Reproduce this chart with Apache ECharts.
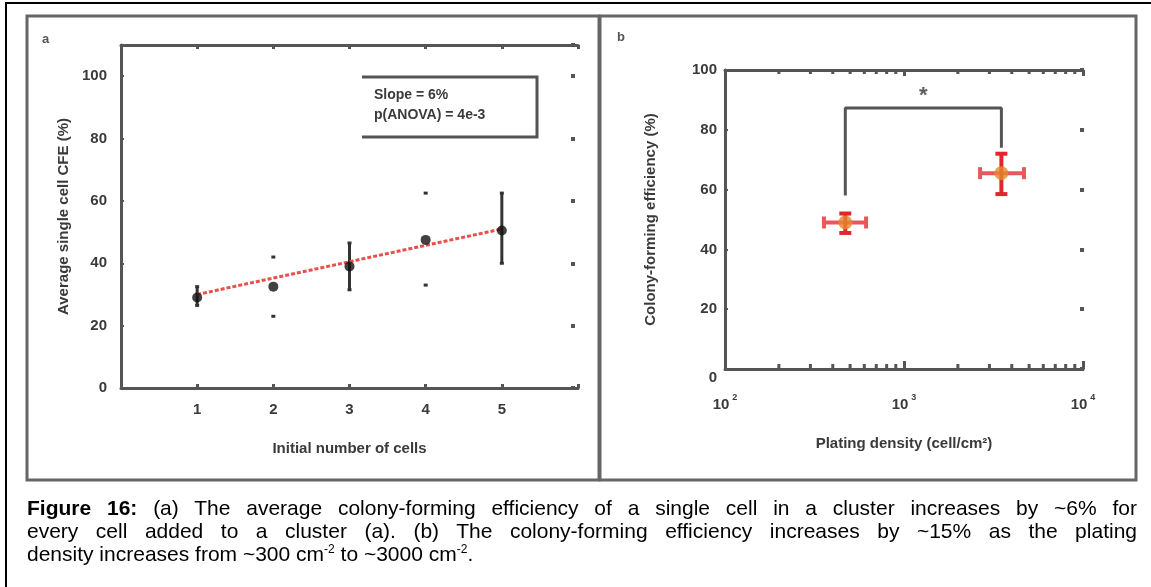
<!DOCTYPE html>
<html>
<head>
<meta charset="utf-8">
<script src="https://cdn.jsdelivr.net/npm/echarts@6/dist/echarts.min.js"></script>
<style>
  html, body { margin: 0; padding: 0; background: #fff; }
  #chart { position: absolute; left: 0; top: 0; width: 1151px; height: 587px; }
  #caption {
    position: absolute; left: 27px; top: 496px; width: 1110px;
    font: 21px 'Liberation Sans', Arial, sans-serif; line-height: 23px; color: #000;
  }
  #caption div { text-align: justify; text-align-last: justify; white-space: nowrap; }
  #caption div.last { text-align: left; text-align-last: left; }
  #caption sup { font-size: 12px; line-height: 0; vertical-align: 8px; }
</style>
</head>
<body>
<div id="chart"></div>
<div id="caption">
  <div><b>Figure 16:</b> (a) The average colony-forming efficiency of a single cell in a cluster increases by ~6% for</div>
  <div>every cell added to a cluster (a). (b) The colony-forming efficiency increases by ~15% as the plating</div>
  <div class="last">density increases from ~300 cm<sup>-2</sup> to ~3000 cm<sup>-2</sup>.</div>
</div>
<script>
// panel a: CFE vs initial number of cells
const cellCounts = [1, 2, 3, 4, 5];
const cfeMean = [29, 32.5, 39, 47.5, 50.5];
const cfeLow = [26.5, 23, 31.5, 33, 40];
const cfeHigh = [32.5, 42, 46.5, 62.5, 62.5];
const cfeBarShown = [1, 0, 1, 0, 1]; // stems of 2 and 4 are lost in the scan
const fitLine = [[1, 30], [5, 51]];
const statLines = ['Slope = 6%', 'p(ANOVA) = 4e-3'];

// panel b: colony-forming efficiency vs plating density
const density = [470, 3500];
const densityLow = [357, 2660];
const densityHigh = [614, 4680];
const colonyEff = [49, 65.5];
const colonyLow = [45.5, 58.5];
const colonyHigh = [52, 72];
const bracket = [[470, 58], [470, 87.3], [3500, 87.3], [3500, 74]];
const starPos = [1280, 92.5];
const minorTicks = [200, 300, 400, 500, 600, 700, 800, 900, 2000, 3000, 4000, 5000, 6000, 7000, 8000, 9000];

const AX = '#555';
const TXT = '#3a3a3a';
const FONT = "'Liberation Sans', Arial, sans-serif";

const chart = echarts.init(document.getElementById('chart'));

const labelStyle = { color: TXT, fontSize: 15, fontWeight: 'bold', fontFamily: FONT };
const nameStyle = { color: TXT, fontSize: 15, fontWeight: 'bold', fontFamily: FONT };

const vErrBars = cellCounts.map((c, i) => [c, cfeLow[i], cfeHigh[i], cfeBarShown[i]]);
const xyErrBars = density.map((d, i) => [d, colonyEff[i], densityLow[i], densityHigh[i], colonyLow[i], colonyHigh[i]]);

const supLabel = v => '{b|10}{s|' + Math.round(Math.log10(v)) + '}';

const option = {
  backgroundColor: '#fff',
  animation: false,
  grid: [
    { left: 121, top: 45, width: 457, height: 343 },
    { left: 725, top: 70, width: 358, height: 299 }
  ],
  xAxis: [
    {
      gridIndex: 0, type: 'value', min: 0, max: 6, interval: 1,
      name: 'Initial number of cells', nameLocation: 'middle', nameGap: 53, nameTextStyle: nameStyle,
      axisLine: { onZero: false, lineStyle: { color: AX, width: 3 } },
      axisTick: { inside: true, length: 4, lineStyle: { color: AX, width: 3 } },
      axisLabel: Object.assign({ margin: 14, formatter: v => (v >= 1 && v <= 5 ? v : '') }, labelStyle),
      splitLine: { show: false }
    },
    {
      gridIndex: 0, type: 'value', min: 0, max: 6, interval: 1, position: 'top',
      axisLine: { onZero: false, lineStyle: { color: AX, width: 3 } },
      axisTick: { inside: true, length: 4, lineStyle: { color: AX, width: 3 } },
      axisLabel: { show: false }, splitLine: { show: false }
    },
    {
      gridIndex: 1, type: 'log', logBase: 10, min: 100, max: 10000,
      name: 'Plating density (cell/cm²)', nameLocation: 'middle', nameGap: 67, nameTextStyle: nameStyle,
      axisLine: { onZero: false, lineStyle: { color: AX, width: 3 } },
      axisTick: { inside: true, length: 8, lineStyle: { color: AX, width: 3 } },
      axisLabel: {
        margin: 24, formatter: supLabel,
        rich: {
          b: { color: TXT, fontSize: 15, fontWeight: 'bold', fontFamily: FONT },
          s: { color: TXT, fontSize: 9, fontWeight: 'bold', fontFamily: FONT, verticalAlign: 'top', padding: [0, 0, 14, 3] }
        }
      },
      splitLine: { show: false }
    },
    {
      gridIndex: 1, type: 'log', logBase: 10, min: 100, max: 10000, position: 'top',
      axisLine: { onZero: false, lineStyle: { color: AX, width: 3 } },
      axisTick: { inside: true, length: 6, lineStyle: { color: AX, width: 3 } },
      axisLabel: { show: false }, splitLine: { show: false }
    }
  ],
  yAxis: [
    {
      gridIndex: 0, type: 'value', min: 0, max: 110, interval: 20,
      name: 'Average single cell CFE (%)', nameLocation: 'middle', nameRotate: 90, nameGap: 50, nameTextStyle: nameStyle,
      axisLine: { onZero: false, lineStyle: { color: AX, width: 3 } },
      axisTick: { inside: true, length: 3, lineStyle: { color: AX, width: 2 } },
      axisLabel: Object.assign({ margin: 14, formatter: v => (v % 20 === 0 ? v : '') }, labelStyle),
      splitLine: { show: false }
    },
    {
      gridIndex: 0, type: 'value', min: 0, max: 110, interval: 20, position: 'right', offset: -3,
      axisLine: { show: false, onZero: false },
      axisTick: { inside: true, length: 4, lineStyle: { color: AX, width: 4 } },
      axisLabel: { show: false }, splitLine: { show: false }
    },
    {
      gridIndex: 1, type: 'value', min: 0, max: 100, interval: 20,
      name: 'Colony-forming efficiency (%)', nameLocation: 'middle', nameRotate: 90, nameGap: 67, nameTextStyle: nameStyle,
      axisLine: { onZero: false, lineStyle: { color: AX, width: 3 } },
      axisTick: { inside: true, length: 3, lineStyle: { color: AX, width: 2 } },
      axisLabel: Object.assign({
        margin: 8,
        formatter: v => (v === 0 ? '{z|0}' : v),
        rich: { z: { color: TXT, fontSize: 15, fontWeight: 'bold', fontFamily: FONT, padding: [18, 0, 0, 0] } }
      }, labelStyle),
      splitLine: { show: false }
    },
    {
      gridIndex: 1, type: 'value', min: 0, max: 100, interval: 20, position: 'right', offset: 1,
      axisLine: { show: false, onZero: false },
      axisTick: { inside: true, length: 4, lineStyle: { color: AX, width: 4 } },
      axisLabel: { show: false }, splitLine: { show: false }
    }
  ],
  graphic: [
    { type: 'line', shape: { x1: 5, y1: 3, x2: 1151, y2: 3 }, style: { stroke: '#000', lineWidth: 2 } },
    { type: 'line', shape: { x1: 6, y1: 3, x2: 6, y2: 587 }, style: { stroke: '#000', lineWidth: 2 } },
    { type: 'rect', shape: { x: 27, y: 16, width: 572, height: 464 }, style: { fill: 'none', stroke: '#666', lineWidth: 3 } },
    { type: 'rect', shape: { x: 600, y: 16, width: 536, height: 464 }, style: { fill: 'none', stroke: '#666', lineWidth: 3 } },
    { type: 'text', left: 42, top: 33, style: { text: 'a', fill: '#555', font: 'bold 13px ' + FONT } },
    { type: 'text', left: 617, top: 31, style: { text: 'b', fill: '#555', font: 'bold 13px ' + FONT } },
    { type: 'polyline', shape: { points: [[362, 77], [537, 77], [537, 137], [362, 137]] }, style: { fill: 'none', stroke: AX, lineWidth: 3 } },
    { type: 'text', left: 374, top: 85, style: { text: statLines.join('\n'), fill: TXT, font: 'bold 14px ' + FONT, lineHeight: 20 } }
  ],
  series: [
    {
      type: 'custom', xAxisIndex: 0, yAxisIndex: 0, z: 3,
      data: vErrBars,
      encode: { x: 0, y: [1, 2] },
      renderItem: (params, api) => {
        const x = api.value(0);
        const lo = api.coord([x, api.value(1)]);
        const hi = api.coord([x, api.value(2)]);
        const st = { stroke: '#333', lineWidth: 3 };
        const kids = [
          { type: 'line', shape: { x1: lo[0] - 2, y1: lo[1], x2: lo[0] + 2, y2: lo[1] }, style: st },
          { type: 'line', shape: { x1: hi[0] - 2, y1: hi[1], x2: hi[0] + 2, y2: hi[1] }, style: st }
        ];
        if (api.value(3)) {
          kids.push({ type: 'line', shape: { x1: lo[0], y1: lo[1], x2: hi[0], y2: hi[1] }, style: st });
        }
        return { type: 'group', children: kids };
      }
    },
    {
      type: 'line', xAxisIndex: 0, yAxisIndex: 0, z: 4,
      data: fitLine, symbol: 'none',
      lineStyle: { color: '#e8504a', width: 3, type: [4, 2] }
    },
    {
      type: 'scatter', xAxisIndex: 0, yAxisIndex: 0, z: 5,
      data: cellCounts.map((c, i) => [c, cfeMean[i]]),
      symbol: 'circle', symbolSize: 10,
      itemStyle: { color: '#111' }
    },
    {
      type: 'custom', xAxisIndex: 2, yAxisIndex: 2, z: 2,
      data: minorTicks.map(v => [v, 0]),
      encode: { x: 0, y: 1 },
      renderItem: (params, api) => {
        const v = api.value(0);
        const b = api.coord([v, 0]);
        const t = api.coord([v, 100]);
        const st = { stroke: AX, lineWidth: 3 };
        return {
          type: 'group', children: [
            { type: 'line', shape: { x1: b[0], y1: b[1], x2: b[0], y2: b[1] - 5 }, style: st },
            { type: 'line', shape: { x1: t[0], y1: t[1], x2: t[0], y2: t[1] + 4 }, style: st }
          ]
        };
      }
    },
    {
      type: 'line', xAxisIndex: 2, yAxisIndex: 2, z: 3,
      data: bracket, symbol: 'none',
      lineStyle: { color: '#555', width: 3 }
    },
    {
      type: 'scatter', xAxisIndex: 2, yAxisIndex: 2, z: 3,
      data: [starPos], symbolSize: 0,
      label: { show: true, formatter: '*', color: '#333', fontSize: 22, fontWeight: 'bold', fontFamily: FONT, position: 'inside', offset: [0, 4] }
    },
    {
      type: 'custom', xAxisIndex: 2, yAxisIndex: 2, z: 4,
      data: xyErrBars,
      encode: { x: [0, 2, 3], y: [1, 4, 5] },
      renderItem: (params, api) => {
        const x = api.value(0), y = api.value(1);
        const l = api.coord([api.value(2), y]);
        const r = api.coord([api.value(3), y]);
        const d = api.coord([x, api.value(4)]);
        const u = api.coord([x, api.value(5)]);
        const red = { stroke: '#e3262b', lineWidth: 4 };
        const pink = { stroke: '#e8585a', lineWidth: 4 };
        const c = 6;
        return {
          type: 'group', children: [
            { type: 'line', shape: { x1: l[0], y1: l[1], x2: r[0], y2: r[1] }, style: pink },
            { type: 'line', shape: { x1: l[0], y1: l[1] - c, x2: l[0], y2: l[1] + c }, style: pink },
            { type: 'line', shape: { x1: r[0], y1: r[1] - c, x2: r[0], y2: r[1] + c }, style: pink },
            { type: 'line', shape: { x1: d[0], y1: d[1], x2: u[0], y2: u[1] }, style: red },
            { type: 'line', shape: { x1: d[0] - c, y1: d[1], x2: d[0] + c, y2: d[1] }, style: red },
            { type: 'line', shape: { x1: u[0] - c, y1: u[1], x2: u[0] + c, y2: u[1] }, style: red }
          ]
        };
      }
    },
    {
      type: 'scatter', xAxisIndex: 2, yAxisIndex: 2, z: 5,
      data: density.map((d, i) => [d, colonyEff[i]]),
      symbol: 'circle', symbolSize: 14,
      itemStyle: { color: '#e48a2e' }
    }
  ]
};

chart.setOption(option);
window.addEventListener('resize', () => chart.resize());
</script>
</body>
</html>
